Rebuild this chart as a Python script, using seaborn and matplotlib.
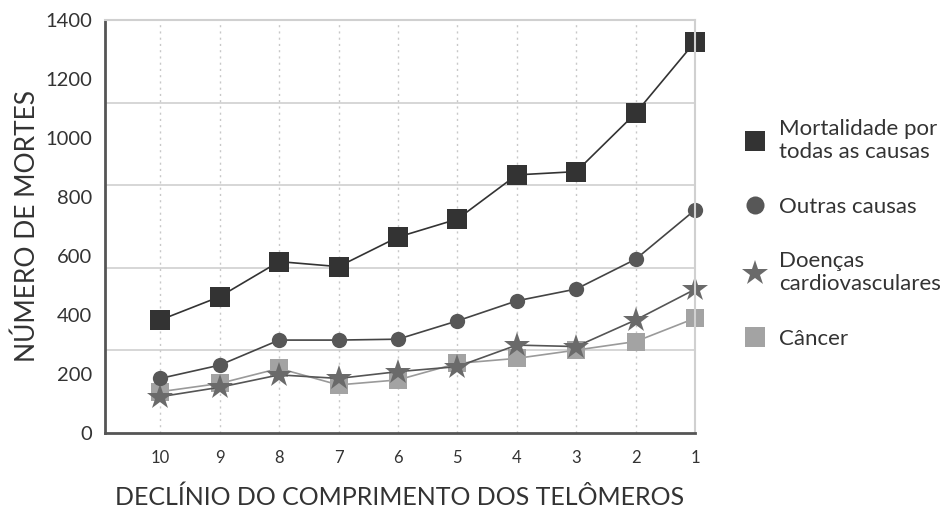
import numpy as np
import pandas as pd
import matplotlib
matplotlib.use("Agg")
import matplotlib.pyplot as plt
from matplotlib.lines import Line2D
import seaborn as sns

# ---- data ----
x_labels = ["10", "9", "8", "7", "6", "5", "4", "3", "2", "1"]
mortalidade = [383, 462, 581, 564, 664, 725, 875, 886, 1084, 1326]
outras = [185, 230, 315, 315, 318, 380, 448, 488, 589, 756]
cardio = [123, 155, 197, 185, 208, 225, 298, 293, 383, 487]
cancer = [140, 168, 219, 163, 180, 236, 253, 281, 310, 389]
series_names = ["Mortalidade por\ntodas as causas", "Outras causas",
                "Doenças\ncardiovasculares", "Câncer"]
y_ticks = [0, 200, 400, 600, 800, 1000, 1200, 1400]
grid_lines = [280, 560, 840, 1120]

sns.set_theme(style="white")
plt.rcParams["font.family"] = ["Lato", "DejaVu Sans"]

fig = plt.figure(figsize=(9.45, 5.08), dpi=100)
ax = fig.add_axes([105 / 945, 75 / 508, 590 / 945, 413 / 508])

pos = np.arange(len(x_labels))
styles = [
    (mortalidade, "s", 15, "#333333", "#333333", 1.2),
    (outras, "o", 11, "#575757", "#444444", 1.2),
    (cardio, "*", 19, "#6a6a6a", "#555555", 1.2),
    (cancer, "s", 13, "#a3a3a3", "#9a9a9a", 1.2),
]
# draw order: light first so darker ones on top
for vals, mk, ms, mc, lc, lw in [styles[3], styles[2], styles[1], styles[0]]:
    df = pd.DataFrame({"x": pos, "y": vals})
    sns.lineplot(data=df, x="x", y="y", ax=ax, color=lc, linewidth=lw,
                 marker=mk, markersize=ms, markerfacecolor=mc,
                 markeredgecolor=mc, markeredgewidth=0, clip_on=False)

ax.set_xlim(-0.93, 9.0)
ax.set_ylim(0, 1400)
ax.set_xticks(pos)
ax.set_xticklabels(x_labels)
ax.set_yticks(y_ticks)
ax.set_yticklabels([str(v) for v in y_ticks])
ax.tick_params(axis="x", labelsize=12, colors="#333333", length=0, pad=12)
ax.tick_params(axis="y", labelsize=14.5, colors="#333333", length=0, pad=9)

for g in grid_lines:
    ax.axhline(g, color="#d0d0d0", linewidth=1.2, zorder=0)
for p in pos:
    ax.axvline(p, color="#c8c8c8", linewidth=1.0, linestyle=(0, (1.5, 3)), zorder=0)

for s in ["left", "bottom"]:
    ax.spines[s].set_color("#555555")
    ax.spines[s].set_linewidth(2.0)
for s in ["top", "right"]:
    ax.spines[s].set_color("#d0d0d0")
    ax.spines[s].set_linewidth(1.5)

ax.set_xlabel("DECLÍNIO DO COMPRIMENTO DOS TELÔMEROS", fontsize=18,
              color="#333333", labelpad=14)
ax.set_ylabel("NÚMERO DE MORTES", fontsize=19, color="#333333", labelpad=4)

handles = [
    Line2D([], [], linestyle="none", marker="s", markersize=15,
           markerfacecolor="#333333", markeredgewidth=0),
    Line2D([], [], linestyle="none", marker="o", markersize=13,
           markerfacecolor="#575757", markeredgewidth=0),
    Line2D([], [], linestyle="none", marker="*", markersize=19,
           markerfacecolor="#6a6a6a", markeredgewidth=0),
    Line2D([], [], linestyle="none", marker="s", markersize=15,
           markerfacecolor="#a3a3a3", markeredgewidth=0),
]
leg = fig.legend(handles, series_names, loc="upper left",
                 bbox_to_anchor=(742 / 945, 1 - 119 / 508), frameon=False,
                 fontsize=16, labelspacing=1.55, handletextpad=0.45,
                 handlelength=1.2, borderpad=0, borderaxespad=0,
                 labelcolor="#333333")

fig.savefig("out.png", dpi=100)
